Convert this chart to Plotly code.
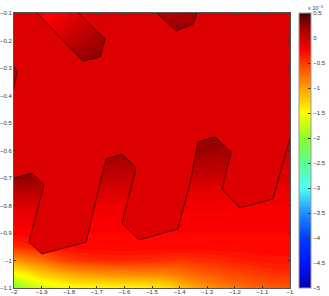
import plotly.graph_objects as go

x_grid = [-2, -1.95, -1.9, -1.85, -1.8, -1.75, -1.7, -1.65, -1.6, -1.55, -1.5, -1.45, -1.4, -1.35, -1.3, -1.25, -1.2, -1.15, -1.1, -1.05, -1]
y_grid = [-0.1, -0.15, -0.2, -0.25, -0.3, -0.35, -0.4, -0.45, -0.5, -0.55, -0.6, -0.65, -0.7, -0.75, -0.8, -0.85, -0.9, -0.95, -1.0, -1.05, -1.1]
B = -0.05
z_rows = [
    [B, -.15, -.22, -.22, -.15, -.05, B, B, B, B, .1, .12, .15, .15, .15, B, B, B, B, B, B],
    [B, -.15, -.2, -.12, -.04, .04, .1, .1, B, B, .12, .18, .22, .22, .2, B, B, B, B, B, B],
    [B, B, B, -.03, .05, .12, .18, .2, B, B, B, .2, .25, .25, B, B, B, B, B, B, B],
    [.2, B, B, .03, .12, .2, .25, .25, B, B, B, B, B, B, B, B, B, B, B, B, B],
    [.2, .1, B, B, .2, .25, .25, .25, B, B, B, B, B, B, B, B, B, B, B, B, B],
    [.2, .1, B, B, B, B, B, B, B, B, B, B, B, B, B, B, B, B, B, B, B],
    [.2, .1, B, B, B, B, B, B, B, B, B, B, B, B, B, B, B, B, B, B, B],
    [B, B, B, B, B, B, B, B, B, B, B, B, B, B, B, B, B, B, B, B, B],
    [B, B, B, B, B, B, B, B, B, B, B, B, B, B, B, B, B, B, B, B, B],
    [B, B, B, B, B, B, B, B, B, B, B, B, .25, .25, .25, .25, .2, B, B, B, B],
    [.25, .25, B, B, B, B, .2, .2, .2, .2, B, B, .22, .22, .22, .2, .18, B, B, B, -.05],
    [.28, .28, .25, B, B, B, .15, .15, .13, .12, B, B, .12, .12, .12, .1, .1, -.05, -.05, -.05, -.05],
    [.25, .25, .2, B, B, B, .06, .06, .06, .06, B, B, .03, .03, .03, .02, .02, -.07, -.07, -.07, -.07],
    [.1, .1, .08, B, B, -.04, -.04, -.04, -.04, -.05, -.08, -.1, -.1, -.1, -.1, -.1, -.12, -.14, -.14, -.14, -.14],
    [-.05, -.05, -.05, -.08, -.11, -.15, -.16, -.16, -.16, -.16, -.17, -.18, -.18, -.18, -.18, -.18, -.19, -.2, -.2, -.2, -.2],
    [-.15, -.15, -.15, -.17, -.2, -.22, -.22, -.22, -.22, -.22, -.22, -.23, -.23, -.23, -.23, -.23, -.23, -.23, -.23, -.23, -.23],
    [-.22, -.22, -.23, -.24, -.25, -.25, -.25, -.25, -.25, -.25, -.25, -.25, -.25, -.25, -.25, -.25, -.25, -.25, -.25, -.25, -.25],
    [-.45, -.38, -.32, -.3, -.28, -.27, -.26, -.26, -.26, -.26, -.26, -.26, -.26, -.26, -.26, -.26, -.26, -.26, -.26, -.26, -.26],
    [-.95, -.85, -.75, -.62, -.5, -.45, -.42, -.41, -.4, -.41, -.42, -.45, -.47, -.45, -.42, -.4, -.37, -.35, -.33, -.32, -.32],
    [-1.55, -1.4, -1.25, -1.15, -1.05, -1.0, -.95, -.92, -.9, -.88, -.87, -.85, -.8, -.72, -.65, -.6, -.55, -.52, -.48, -.45, -.45],
    [-2.1, -1.85, -1.72, -1.62, -1.55, -1.52, -1.5, -1.48, -1.47, -1.46, -1.42, -1.36, -1.2, -1.05, -.95, -.85, -.78, -.72, -.68, -.65, -.62],
]

chain_x = [-2, -1.935, -1.891, -1.946, -1.899, -1.739, -1.667, -1.609, -1.558, -1.609, -1.547, -1.406, -1.362, -1.333, -1.272, -1.214, -1.246, -1.181, -1.062, -1]
chain_y = [-0.7, -0.682, -0.725, -0.933, -0.976, -0.933, -0.631, -0.613, -0.664, -0.864, -0.925, -0.885, -0.718, -0.569, -0.551, -0.605, -0.74, -0.809, -0.776, -0.555]
tooth1_x = [-1.917, -1.75, -1.688, -1.67, -1.768]
tooth1_y = [-0.1, -0.275, -0.26, -0.195, -0.1]
tooth2_x = [-1.482, -1.413, -1.351, -1.337]
tooth2_y = [-0.1, -0.165, -0.14, -0.1]
notch_x = [-2, -1.989, -2]
notch_y = [-0.293, -0.315, -0.373]

x_ticks = [-2, -1.9, -1.8, -1.7, -1.6, -1.5, -1.4, -1.3, -1.2, -1.1, -1]
x_labels = ["−2", "−1.9", "−1.8", "−1.7", "−1.6", "−1.5", "−1.4", "−1.3", "−1.2", "−1.1", "−1"]
y_ticks = [-0.1, -0.2, -0.3, -0.4, -0.5, -0.6, -0.7, -0.8, -0.9, -1, -1.1]
y_labels = ["−0.1", "−0.2", "−0.3", "−0.4", "−0.5", "−0.6", "−0.7", "−0.8", "−0.9", "−1", "−1.1"]
cb_ticks = [0.5, 0, -0.5, -1, -1.5, -2, -2.5, -3, -3.5, -4, -4.5, -5]
cb_labels = ["0.5", "0", "−0.5", "−1", "−1.5", "−2", "−2.5", "−3", "−3.5", "−4", "−4.5", "−5"]

cmin, cmax = -5, 0.5
stops = [(-5, "rgb(0,0,170)"), (-4.5, "rgb(0,20,255)"), (-4, "rgb(0,60,255)"), (-3.5, "rgb(30,140,255)"),
         (-3, "rgb(80,255,245)"), (-2.5, "rgb(90,255,150)"), (-2, "rgb(140,255,40)"), (-1.5, "rgb(255,255,0)"),
         (-1, "rgb(255,160,0)"), (-0.5, "rgb(255,60,0)"), (-0.25, "rgb(255,0,0)"), (0, "rgb(210,0,0)"),
         (0.25, "rgb(150,0,0)"), (0.5, "rgb(70,0,0)")]
colorscale = [[(v - cmin) / (cmax - cmin), c] for v, c in stops]
BASE_COLOR = "rgb(221,0,0)"
LINE = "rgba(20,0,0,0.8)"
FONT = dict(family="Liberation Sans", size=6, color="#333333")

fig = go.Figure()
fig.add_trace(go.Contour(
    x=x_grid, y=y_grid, z=z_rows, zmin=cmin, zmax=cmax, colorscale=colorscale,
    autocontour=False, contours=dict(start=cmin, end=cmax, size=0.05, coloring="fill", showlines=False),
    line=dict(width=0), hoverinfo="skip",
    colorbar=dict(x=1.033, xanchor="left", y=1, yanchor="top", xpad=0, ypad=0,
                  len=1, lenmode="fraction", thickness=12, thicknessmode="pixels",
                  outlinecolor="#999999", outlinewidth=1, borderwidth=0,
                  tickmode="array", tickvals=cb_ticks, ticktext=cb_labels, ticks="inside", ticklen=3,
                  tickcolor="#333333", tickwidth=0.6, tickfont=FONT),
))
fill_x = chain_x + [-1] + tooth2_x[::-1] + tooth1_x[::-1] + [-2] + notch_x + [-2]
fill_y = chain_y + [-0.1] + tooth2_y[::-1] + tooth1_y[::-1] + [-0.1] + notch_y + [-0.7]
fig.add_trace(go.Scatter(x=fill_x, y=fill_y, mode="lines", fill="toself", fillcolor=BASE_COLOR,
                         line=dict(width=0), hoverinfo="skip", showlegend=False))
for xs, ys in [(chain_x, chain_y), (tooth1_x, tooth1_y), (tooth2_x, tooth2_y), (notch_x, notch_y)]:
    fig.add_trace(go.Scatter(x=xs, y=ys, mode="lines", line=dict(color=LINE, width=0.8),
                             hoverinfo="skip", showlegend=False))

axis_common = dict(ticks="inside", ticklen=2, tickwidth=0.6, tickcolor="#333333", showline=True,
                   linecolor="#555555", linewidth=1, mirror="allticks", showgrid=False, zeroline=False,
                   tickfont=FONT, tickmode="array", automargin=False)
fig.update_xaxes(range=[-2, -1], tickvals=x_ticks, ticktext=x_labels, ticklabelstandoff=-2, **axis_common)
fig.update_yaxes(range=[-1.1, -0.1], tickvals=y_ticks, ticktext=y_labels, **axis_common)
fig.update_layout(width=329, height=296, margin=dict(l=14, r=39, t=13, b=8, autoexpand=False), paper_bgcolor="white",
                  plot_bgcolor="white", showlegend=False,
                  annotations=[dict(text="x 10<sup>−3</sup>", xref="paper", yref="paper", x=1.06, y=1.005,
                                    xanchor="left", yanchor="bottom", showarrow=False, borderpad=0,
                                    font=dict(family="Liberation Sans", size=5.5, color="#333333"))])
fig.write_html("out.html", config=dict(displayModeBar=False), post_script="document.body.style.margin='0';")
